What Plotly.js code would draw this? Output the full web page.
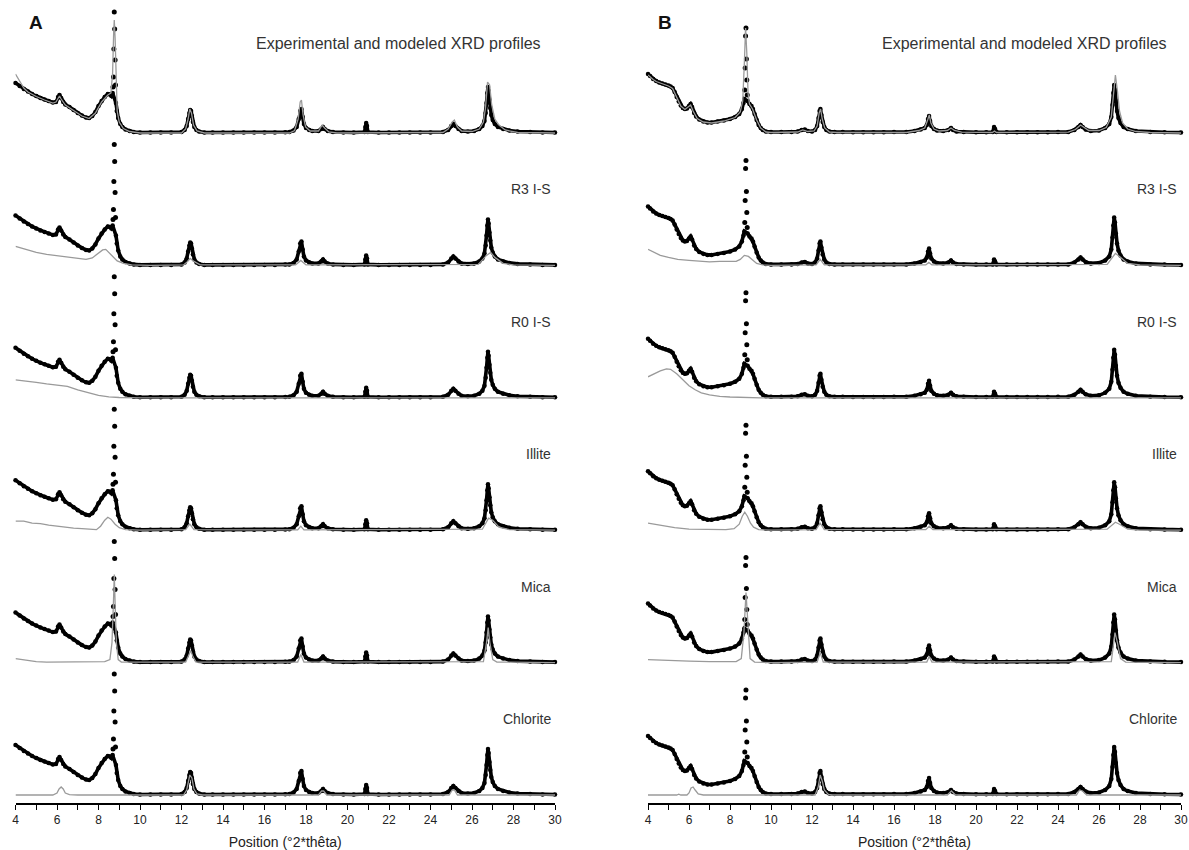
<!DOCTYPE html>
<html>
<head>
<meta charset="utf-8">
<script src="https://cdn.plot.ly/plotly-3.0.1.min.js"></script>
<style>html,body{margin:0;padding:0;background:#fff;}#chart{width:1189px;height:850px;}</style>
</head>
<body>
<div id="chart"></div>
<script>
// ---------- DATA (intensity above each row's baseline) ----------
const rowLabels = ["Experimental and modeled XRD profiles", "R3 I-S", "R0 I-S", "Illite", "Mica", "Chlorite"];
const panelLetters = ["A", "B"];
const axisTitle = "Position (°2*thêta)";

// Experimental profile, panel A: [°2θ, intensity]
const expA = [[4.0,50],[4.2,47],[4.4,44],[4.6,41.5],[4.8,39],[5.0,37],[5.2,35],[5.4,33.5],[5.6,32],[5.8,30.5],[5.95,31],[6.05,36],[6.12,38],[6.2,35],[6.3,31],[6.4,28.5],[6.6,26],[6.8,23],[7.0,20],[7.2,17.5],[7.4,15.5],[7.55,15],[7.7,17],[7.85,21],[8.0,27],[8.15,32],[8.3,36],[8.45,39],[8.55,38.5],[8.62,37],[8.68,40],[8.84,30],[8.88,22],[8.95,15],[9.05,9],[9.15,6],[9.3,3.5],[9.5,2],[9.7,1],[10.0,0.5],[10.5,0.5],[11.0,0.5],[11.5,0.5],[12.0,1],[12.15,3],[12.25,7],[12.32,14],[12.38,20],[12.42,23],[12.46,22],[12.5,17],[12.55,11],[12.62,6],[12.72,3],[12.85,1.5],[13.1,0.5],[13.5,0.5],[14,0.5],[14.5,0.5],[15,0.5],[15.5,0.5],[16,0.5],[16.5,0.5],[17.0,0.8],[17.2,1],[17.4,2.5],[17.55,6],[17.65,14],[17.72,22],[17.78,24],[17.84,16],[17.9,9],[18.0,5],[18.15,3],[18.3,2],[18.6,2],[18.75,4],[18.82,6],[18.9,4],[19.05,2],[19.3,1],[19.8,0.5],[20.3,0.5],[20.82,1],[20.86,6],[20.9,10],[20.94,7],[20.98,1],[21.5,0.5],[22,0.5],[22.5,0.5],[23,0.5],[23.5,0.5],[24,0.5],[24.6,1],[24.85,3],[25.0,7],[25.1,9],[25.2,7],[25.35,4],[25.5,2],[25.8,1.5],[26.1,2],[26.35,4],[26.5,7],[26.6,12],[26.66,20],[26.7,30],[26.74,40],[26.77,46],[26.8,42],[26.84,33],[26.88,25],[26.93,18],[27.0,13],[27.1,9],[27.25,6],[27.5,4],[27.8,2.5],[28.2,1.5],[28.8,1],[29.4,0.5],[30.0,0.5]];
// isolated counts on top of the 8.8° reflection, panel A
const expA_peak = [[8.70,46],[8.72,56],[8.74,84],[8.76,121],[8.78,104],[8.80,73],[8.82,48]];

// Experimental profile, panel B
const expB = [[4.0,59],[4.1,57],[4.25,54],[4.4,52],[4.55,50.5],[4.7,49.5],[4.85,48.5],[5.0,47.5],[5.1,46.5],[5.2,45],[5.3,41],[5.4,36],[5.5,31.5],[5.6,27.5],[5.7,25],[5.8,24],[5.9,24.5],[6.0,27],[6.08,29],[6.15,26],[6.25,20],[6.35,16.5],[6.5,13.5],[6.7,11.5],[6.9,10.5],[7.1,10.5],[7.4,11.5],[7.7,12.5],[8.0,14],[8.25,16],[8.45,19],[8.58,24],[8.66,30],[8.7,34],[8.86,32],[8.95,29],[9.05,27],[9.12,24],[9.2,19],[9.3,13],[9.4,8],[9.5,5],[9.6,3],[9.75,1.5],[10.0,1],[10.5,1],[11.0,1],[11.3,1.5],[11.5,3],[11.65,3.5],[11.8,2],[12.0,1.5],[12.15,3],[12.25,7],[12.32,15],[12.37,22],[12.41,24],[12.46,18],[12.52,11],[12.6,6],[12.7,3],[12.85,1.5],[13.1,1],[13.5,1],[14,0.8],[14.5,0.8],[15,0.8],[15.5,0.8],[16,1],[16.6,1],[17.0,2],[17.3,3.5],[17.5,5],[17.6,8],[17.66,14],[17.71,17],[17.76,12],[17.82,7],[17.95,4],[18.1,2.5],[18.4,2],[18.65,3],[18.78,5],[18.88,3],[19.05,1.5],[19.4,1],[20,0.8],[20.5,0.8],[20.82,1],[20.88,6],[20.93,4],[21.0,1],[21.5,0.8],[22,0.8],[22.5,0.8],[23,0.8],[23.5,0.8],[24,1],[24.5,1],[24.8,3],[25.0,6],[25.1,8],[25.2,6],[25.35,3.5],[25.6,2],[26.0,2.5],[26.3,5],[26.5,9],[26.6,16],[26.66,28],[26.7,40],[26.74,48],[26.78,43],[26.82,32],[26.88,22],[26.95,15],[27.05,10],[27.2,6],[27.4,4],[27.8,2],[28.5,1],[29.2,0.8],[30.0,0.5]];
const expB_peak = [[8.72,43],[8.74,65],[8.76,97],[8.78,105],[8.80,74],[8.82,53],[8.84,38]];

// Modeled profiles, panel A (one per row)
const modelA_total = [[4.0,59],[4.2,52],[4.4,45],[4.6,41],[4.8,38.5],[5.0,36.5],[5.4,33],[5.8,30],[5.95,31],[6.05,35],[6.12,37],[6.2,34],[6.4,28],[6.8,22.5],[7.2,17],[7.55,14.5],[7.85,20],[8.15,31],[8.45,38],[8.6,40],[8.68,60],[8.73,100],[8.76,113],[8.8,95],[8.84,50],[8.9,22],[9.0,11],[9.2,4.5],[9.5,1.5],[10,0],[12.0,0],[12.2,4],[12.32,14],[12.4,24],[12.48,20],[12.58,8],[12.75,2],[13.1,0],[17.2,0],[17.45,2.5],[17.62,14],[17.72,31],[17.78,33],[17.86,18],[17.98,6],[18.2,2],[18.6,2],[18.78,8],[18.9,5],[19.1,1],[19.5,0],[24.6,0.5],[24.85,4],[25.05,11],[25.15,13],[25.3,6],[25.5,2],[26.0,1.5],[26.35,4],[26.55,11],[26.65,25],[26.75,51],[26.85,48],[26.95,28],[27.1,14],[27.3,8],[27.6,3],[28.2,0.5],[30,0]];
const modelA_R3 = [[4.0,19],[4.5,16],[5.0,13],[5.5,11],[6.0,9.5],[6.5,8],[7.0,6.5],[7.4,6],[7.7,7.5],[8.0,12],[8.2,15.5],[8.35,16],[8.5,13],[8.7,8],[8.9,4.5],[9.2,2],[9.6,0.5],[10.5,0],[12.1,0.5],[12.3,4],[12.42,7],[12.6,4],[12.9,0.5],[17.5,0.5],[17.75,5],[18.0,0.5],[26.3,1],[26.7,10],[26.9,13],[27.1,8],[27.5,2],[28.0,0.5],[30,0]];
const modelA_R0 = [[4.0,18],[4.5,17],[5.0,15.5],[5.5,14],[6.0,13],[6.5,11.5],[7.0,8],[7.5,5],[8.0,2.5],[8.5,1],[9.0,0.3],[10,0],[30,0]];
const modelA_illite = [[4.0,9],[4.4,9],[4.8,7],[5.2,6.5],[5.6,5],[6.0,4],[6.4,2.5],[6.8,2],[7.2,1.5],[7.6,1],[7.9,0.5],[8.1,4],[8.3,10],[8.45,13],[8.6,11],[8.8,6],[9.0,2.5],[9.3,0.5],[10,0],[12.2,0.5],[12.4,6],[12.6,0.5],[17.6,0.3],[17.75,4],[17.9,0.3],[26.5,1],[26.8,12],[27.0,10],[27.3,3],[27.8,0.5],[30,0]];
const modelA_mica = [[4.0,4],[4.5,2.5],[5.0,1],[5.5,0.5],[7.5,0.5],[8.3,1],[8.55,3],[8.65,20],[8.72,60],[8.76,88],[8.8,60],[8.86,20],[8.95,3],[9.1,0.5],[12.2,0.5],[12.35,8],[12.45,12],[12.55,6],[12.7,0.5],[17.6,0.5],[17.75,8],[17.9,0.5],[26.55,1],[26.7,20],[26.78,35],[26.86,20],[27.0,3],[27.2,0.5],[30,0]];
const modelA_chlorite = [[4.0,0],[5.8,0],[6.0,2],[6.1,6],[6.2,8],[6.3,6],[6.4,2],[6.6,0.3],[7.0,0],[12.1,0],[12.25,5],[12.4,20],[12.5,17],[12.6,6],[12.75,1],[13.0,0],[18.6,0],[18.75,4],[18.85,4],[19.0,0],[24.9,0],[25.05,5],[25.15,5],[25.3,0],[30,0]];

// Modeled profiles, panel B
const modelB_total = [[4.0,58],[4.1,56],[4.25,53.5],[4.4,51.5],[4.7,49],[5.0,47],[5.2,44.5],[5.4,36],[5.6,27],[5.8,23.5],[6.0,26.5],[6.08,28],[6.2,22],[6.4,14.5],[6.7,11],[7.1,10],[7.7,12],[8.25,15.5],[8.5,21],[8.62,32],[8.7,70],[8.76,105],[8.82,80],[8.88,40],[8.95,29],[9.1,24],[9.3,13],[9.5,5],[9.75,1],[10,0.5],[11.3,1],[11.55,3],[11.8,1.5],[12.1,2],[12.25,7],[12.35,20],[12.42,24],[12.5,14],[12.62,5],[12.85,1],[13.2,0.5],[16.6,0.5],[17.2,2.5],[17.5,5],[17.64,13],[17.72,18],[17.8,10],[17.95,4],[18.2,2],[18.6,2.5],[18.78,5],[18.95,2.5],[19.3,0.8],[20.8,0.5],[20.9,2],[21.0,0.5],[24.5,0.8],[24.85,3.5],[25.1,8],[25.25,6],[25.5,2.5],[26.0,2.5],[26.35,5.5],[26.6,16],[26.72,45],[26.8,58],[26.9,42],[27.0,22],[27.15,10],[27.4,4],[27.8,1.5],[28.5,0.5],[30,0]];
const modelB_R3 = [[4.0,16],[4.3,13],[4.6,10],[5.0,8],[5.45,6],[6.0,5],[6.5,4],[7.0,3.5],[7.5,4],[8.0,4],[8.3,4],[8.5,6],[8.7,10],[8.9,9],[9.1,5],[9.3,2],[9.6,0.5],[10,0],[12.2,0.5],[12.4,6],[12.6,0.5],[17.55,0.5],[17.7,3],[17.85,0.5],[26.4,1],[26.8,12],[27.0,9],[27.4,2],[28,0.5],[30,0]];
const modelB_R0 = [[4.0,21],[4.3,24],[4.6,27],[4.9,29],[5.1,28.5],[5.4,24],[5.7,18],[6.0,12],[6.3,8],[6.6,5],[7.0,3],[7.5,1.5],[8.0,0.8],[8.5,0.3],[9.5,0],[30,0]];
const modelB_illite = [[4.0,7],[4.3,6],[4.8,4],[5.3,2.5],[6.0,1],[7.0,0.5],[7.8,0.5],[8.2,1.5],[8.45,6],[8.6,14],[8.72,18],[8.85,14],[9.0,7],[9.15,3],[9.4,0.5],[10,0],[12.2,0.5],[12.4,7],[12.6,0.5],[17.55,0.5],[17.72,4],[17.9,0.5],[26.4,1],[26.8,8],[27.0,6],[27.4,1],[28,0],[30,0]];
const modelB_mica = [[4.0,3],[5.0,2],[6.0,1.5],[7.0,1],[8.3,1],[8.55,4],[8.68,30],[8.78,70],[8.88,30],[8.98,4],[9.2,0.5],[10,0],[12.25,0.5],[12.4,10],[12.55,0.5],[17.6,0.5],[17.72,6],[17.85,0.5],[26.6,1],[26.78,30],[26.9,20],[27.05,4],[27.3,0.5],[30,0]];
const modelB_chlorite = [[4.0,0],[5.4,0],[5.5,0.8],[5.6,0],[5.9,0],[6.0,2],[6.1,7],[6.2,8],[6.3,5],[6.45,1],[6.7,0],[12.15,0],[12.3,8],[12.4,20],[12.5,14],[12.6,5],[12.8,0.5],[13.0,0],[18.6,0],[18.8,4],[19.0,0],[24.9,0],[25.05,5],[25.2,4],[25.4,0],[30,0]];

// ---------- BUILD ----------
const modelsA = [modelA_total, modelA_R3, modelA_R0, modelA_illite, modelA_mica, modelA_chlorite];
const modelsB = [modelB_total, modelB_R3, modelB_R0, modelB_illite, modelB_mica, modelB_chlorite];
const ROW_STEP = 132.4;
const NROWS = 6;
const FONT = "Liberation Sans, Arial, Helvetica, sans-serif";

const traces = [];
function addPanel(exp, expPeak, models, xa, ya) {
  for (let r = 0; r < NROWS; r++) {
    const off = (NROWS - 1 - r) * ROW_STEP;
    traces.push({
      type: "scatter", mode: "lines+markers", xaxis: xa, yaxis: ya, cliponaxis: false,
      x: exp.map(p => p[0]), y: exp.map(p => p[1] + off),
      line: {color: "#000", width: 3.6}, marker: {color: "#000", size: 4.5}, hoverinfo: "skip"
    });
    traces.push({
      type: "scatter", mode: "markers", xaxis: xa, yaxis: ya, cliponaxis: false,
      x: expPeak.map(p => p[0]), y: expPeak.map(p => p[1] + off),
      marker: {color: "#000", size: 5}, hoverinfo: "skip"
    });
    const m = models[r];
    traces.push({
      type: "scatter", mode: "lines", xaxis: xa, yaxis: ya, cliponaxis: false,
      x: m.map(p => p[0]), y: m.map(p => p[1] + off),
      line: {color: "#9a9a9a", width: 1.3}, hoverinfo: "skip"
    });
  }
}
addPanel(expA, expA_peak, modelsA, "x", "y");
addPanel(expB, expB_peak, modelsB, "x2", "y2");

const W = 1189;
function xAxis(domain, anchor) {
  return {
    domain: domain, anchor: anchor, range: [4, 30], tick0: 4, dtick: 2,
    showline: true, linecolor: "#000", linewidth: 1.5,
    ticks: "outside", ticklen: 5, tickwidth: 1, tickcolor: "#000",
    minor: {dtick: 1, ticks: "outside", ticklen: 5, tickwidth: 1, tickcolor: "#000", showgrid: false},
    showgrid: false, zeroline: false, ticklabeloverflow: "allow",
    tickfont: {family: FONT, size: 12, color: "#222"},
    title: {text: axisTitle, font: {family: FONT, size: 14, color: "#222"}, standoff: 13}
  };
}
function yAxis(anchor) {
  return {anchor: anchor, domain: [0, 1], range: [-8, 795], visible: false, showgrid: false, zeroline: false};
}

const annotations = [];
["x", "x2"].forEach((xa, pi) => {
  const ya = pi === 0 ? "y" : "y2";
  rowLabels.forEach((t, r) => {
    const off = (NROWS - 1 - r) * ROW_STEP;
    annotations.push({
      xref: xa, yref: ya, x: r === 0 ? 29.4 : 29.9, y: off + (r === 0 ? 90 : 76),
      xanchor: "right", yanchor: "middle", showarrow: false, text: t,
      font: {family: FONT, size: r === 0 ? 16 : 14, color: "#333"}
    });
  });
});
annotations.push({xref: "paper", yref: "paper", x: 27 / W, y: 1 - 22 / 803, xanchor: "left", yanchor: "middle",
  showarrow: false, text: "<b>" + panelLetters[0] + "</b>", font: {family: FONT, size: 19, color: "#111"}});
annotations.push({xref: "paper", yref: "paper", x: 656 / W, y: 1 - 22 / 803, xanchor: "left", yanchor: "middle",
  showarrow: false, text: "<b>" + panelLetters[1] + "</b>", font: {family: FONT, size: 19, color: "#111"}});

const layout = {
  width: 1189, height: 850,
  margin: {l: 0, r: 0, t: 0, b: 47, pad: 0},
  paper_bgcolor: "#fff", plot_bgcolor: "#fff",
  showlegend: false,
  xaxis: xAxis([15.5 / W, 555 / W], "y"),
  yaxis: yAxis("x"),
  xaxis2: xAxis([648 / W, 1181 / W], "y2"),
  yaxis2: yAxis("x2"),
  annotations: annotations
};

Plotly.newPlot("chart", traces, layout, {staticPlot: true, displayModeBar: false});
</script>
</body>
</html>
